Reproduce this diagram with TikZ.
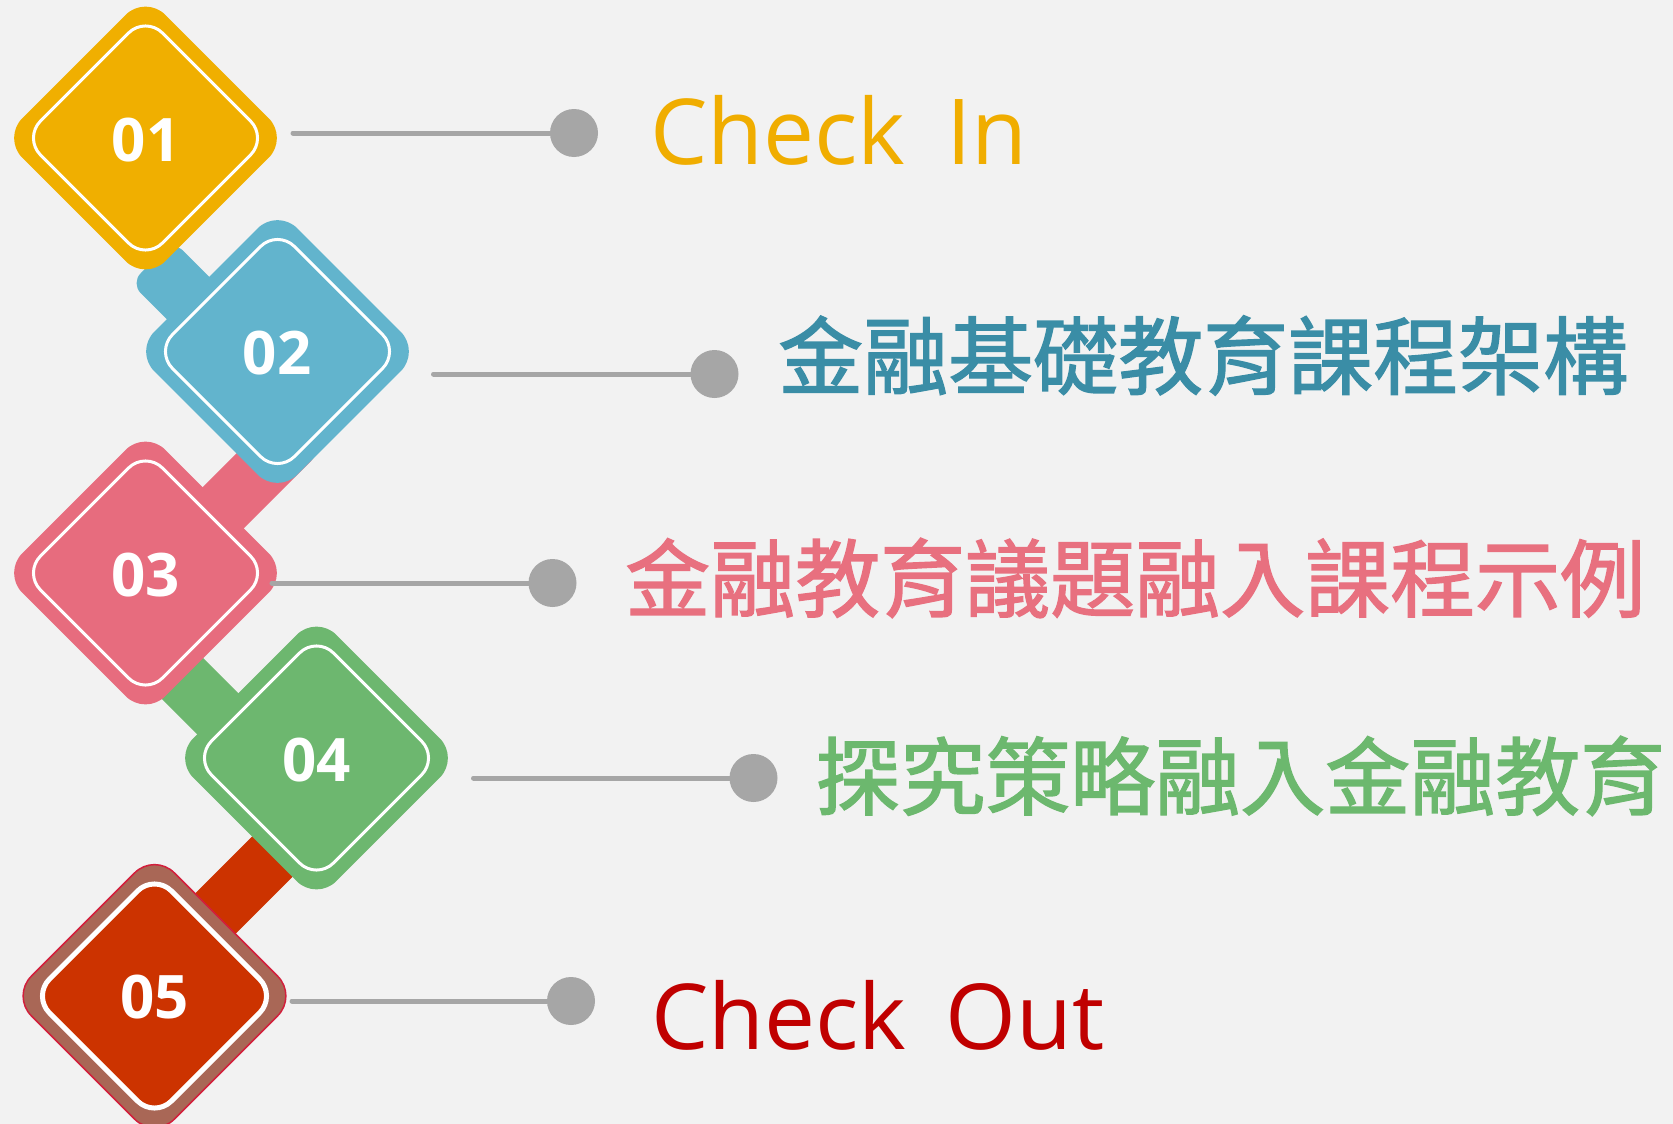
\documentclass[tikz,border=0pt]{standalone}
\usepackage{fontspec}
\setmainfont{Open Sans}
\newfontfamily\cjk[FakeBold=1.6]{Noto Sans CJK TC}
\definecolor{bg}{HTML}{F2F2F2}
\definecolor{cA}{HTML}{F0AF00}
\definecolor{cB}{HTML}{62B4CD}
\definecolor{cC}{HTML}{E76C7E}
\definecolor{cD}{HTML}{6DB76F}
\definecolor{cE}{HTML}{CC3300}
\definecolor{cEout}{HTML}{A96756}
\definecolor{cEedge}{HTML}{D21F3C}
\definecolor{leadgray}{HTML}{A6A6A6}
\definecolor{tA}{HTML}{F0AD00}
\definecolor{tB}{HTML}{3A8DA6}
\definecolor{tC}{HTML}{E8707F}
\definecolor{tD}{HTML}{6CB86E}
\definecolor{tE}{HTML}{C00000}
\begin{document}
\begin{tikzpicture}[x=1pt,y=-1pt,
  dia/.style={rectangle, rotate=45, minimum size=202.2pt, inner sep=0pt, rounded corners=28pt},
  ringbox/.style={rectangle, rotate=45, minimum size=172.5pt, inner sep=0pt, rounded corners=24pt, draw=white, line width=3pt},
  barbox/.style={rectangle, inner sep=0pt, rounded corners=14pt},
  num/.style={font=\fontsize{60}{60}\selectfont\bfseries, text=white, inner sep=0pt},
  lead/.style={draw=leadgray, line width=5pt, line cap=round},
  dotnode/.style={circle, fill=leadgray, minimum size=48pt, inner sep=0pt},
  lat/.style={anchor=base west, inner sep=0pt, font=\fontsize{91}{91}\selectfont},
  han/.style={anchor=base west, inner sep=0pt, font=\cjk\fontsize{85}{85}\selectfont}]
\useasboundingbox (0,0) rectangle (1673,1124);
\fill[bg] (0,0) rectangle (1673,1124);
% bars between the diamonds
\node[barbox, fill=cB, rotate=-45, minimum width=124.5pt, minimum height=60pt] (bAB) at (196,306) {};
\node[barbox, fill=cC, rotate=45, minimum width=184pt, minimum height=58pt] (bBC) at (235.5,495.5) {};
\node[barbox, fill=cD, rotate=-45, minimum width=184pt, minimum height=58pt] (bCD) at (225,721) {};
\node[barbox, fill=cE, rotate=45, minimum width=184pt, minimum height=57pt] (bDE) at (265,864) {};
% diamonds
\node[dia, fill=cA] (d1) at (145.5,138) {};
\node[ringbox] (r1) at (d1) {};
\node[num] (n1) at (146,140) {01};
\node[dia, fill=cB] (d2) at (277.5,351.5) {};
\node[ringbox] (r2) at (d2) {};
\node[num] (n2) at (277,353) {02};
\node[dia, fill=cC] (d3) at (145.5,573) {};
\node[ringbox] (r3) at (d3) {};
\node[num] (n3) at (145.5,575) {03};
\node[dia, fill=cD] (d4) at (316.5,758) {};
\node[ringbox] (r4) at (d4) {};
\node[num] (n4) at (316.5,760) {04};
\node[dia, fill=cEout, draw=cEedge, line width=1.5pt] (d5) at (154.5,996) {};
\node[ringbox, fill=cE, line width=5pt] (r5) at (d5) {};
\node[num] (n5) at (154.5,997.5) {05};
% leader lines and dots
\coordinate (s1) at (293,133);
\coordinate (s2) at (433.5,374);
\coordinate (s3) at (272,583);
\coordinate (s4) at (473.5,778);
\coordinate (s5) at (292,1001);
\node[dotnode] (p1) at (574,133) {};
\node[dotnode] (p2) at (714.5,374) {};
\node[dotnode] (p3) at (552.5,583) {};
\node[dotnode] (p4) at (753.5,778) {};
\node[dotnode] (p5) at (571,1001) {};
\draw[lead] (s1) -- (p1);
\draw[lead] (s2) -- (p2);
\draw[lead] (s3) -- (p3);
\draw[lead] (s4) -- (p4);
\draw[lead] (s5) -- (p5);
% labels
\node[lat, text=tA] (t1) at (650,164.7) {Check~\kern0.19em In};
\node[han, text=tB] (t2) at (778,388) {金融基礎教育課程架構};
\node[han, text=tC] (t3) at (625,610.5) {金融教育議題融入課程示例};
\node[han, text=tD] (t4) at (815,808.5) {探究策略融入金融教育};
\node[lat, text=tE] (t5) at (651,1049) {Check~\kern0.17em Out};
\end{tikzpicture}
\end{document}
